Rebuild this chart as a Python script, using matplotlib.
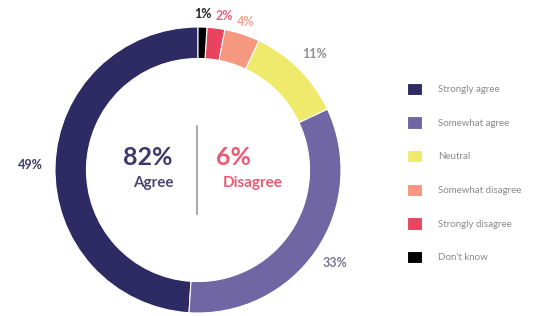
import numpy as np
import matplotlib
matplotlib.use('Agg')
import matplotlib.pyplot as plt

# Survey responses (legend order)
categories = ['Strongly agree', 'Somewhat agree', 'Neutral',
              'Somewhat disagree', 'Strongly disagree', "Don't know"]
values = [49, 33, 11, 4, 2, 1]
pct_labels = ['49%', '33%', '11%', '4%', '2%', '1%']
agree_total = '82%'
disagree_total = '6%'

colors = ['#2e2a63', '#6f66a3', '#f0ea6c', '#f6977f', '#e8445f', '#000000']
label_colors = ['#3d3a66', '#7a7690', '#8f8f8f', '#f3a492', '#e9607a', '#222222']
label_dist = [1.17, 1.16, 1.15, 1.09, 1.09, 1.09]
label_nudge = [0, 0, 0, 0, -2.5, 0]  # degrees, to keep the small labels apart

plt.rcParams['font.family'] = ['Lato', 'DejaVu Sans']

fig = plt.figure(figsize=(5.48, 3.16), dpi=100)
ax = fig.add_axes([55 / 548, 3 / 316, 286 / 548, 286 / 316])

wedges, _ = ax.pie(values, startangle=90, counterclock=True, colors=colors,
                   radius=1.0, wedgeprops=dict(width=0.22, edgecolor='white', linewidth=0.8))
ax.set_xlim(-1, 1)
ax.set_ylim(-1, 1)

# percentage labels outside the ring
for w, txt, c, d, n in zip(wedges, pct_labels, label_colors, label_dist, label_nudge):
    ang = np.deg2rad((w.theta1 + w.theta2) / 2 + n)
    ax.text(d * np.cos(ang), d * np.sin(ang), txt, ha='center', va='center',
            fontsize=9, fontweight='bold', color=c, clip_on=False)

# centre summary
ax.text(-0.35, 0.09, agree_total, ha='center', va='center', fontsize=18,
        fontweight='bold', color='#3d3a6b')
ax.text(-0.31, -0.09, 'Agree', ha='center', va='center', fontsize=11,
        fontweight='bold', color='#4a4770')
ax.text(0.25, 0.09, disagree_total, ha='center', va='center', fontsize=18,
        fontweight='bold', color='#ea5a74')
ax.text(0.38, -0.09, 'Disagree', ha='center', va='center', fontsize=11,
        fontweight='bold', color='#ea5a74')
ax.plot([-0.005, -0.005], [0.31, -0.31], color='#9a9a9a', linewidth=1.2)

fig.legend(wedges, categories, loc='upper left', bbox_to_anchor=(398 / 548, 1 - 74 / 316),
           frameon=False, fontsize=7, labelcolor='#8a8a8a', handlelength=1.6,
           handleheight=1.6, handletextpad=1.6, labelspacing=2.17)

fig.savefig('out.png', dpi=100)
